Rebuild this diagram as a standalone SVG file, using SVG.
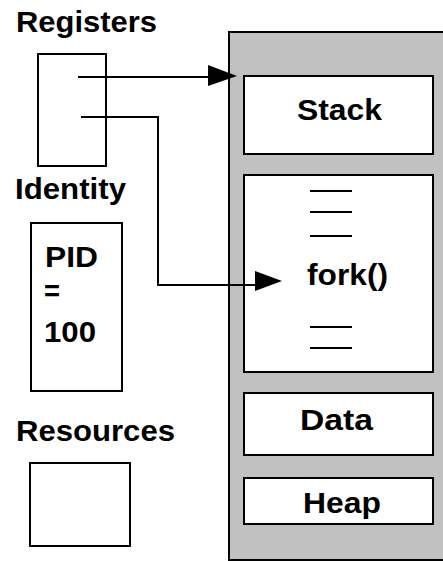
<svg xmlns="http://www.w3.org/2000/svg" width="443" height="561" viewBox="0 0 443 561">
<style>
.box{fill:#fff;stroke:#000;stroke-width:2}
.lbl{font-family:"Liberation Sans",Arial,sans-serif;font-weight:bold;font-size:29px;fill:#000}
.ln{fill:none;stroke:#000;stroke-width:2}
.ah{fill:#000}
</style>
<rect width="443" height="561" fill="#fff"/>
<g id="process">
<rect x="229" y="32" width="220" height="528" fill="#c0c0c0" stroke="#000" stroke-width="2"/>
</g>
<g id="stack">
<rect class="box" x="244" y="76" width="189" height="78"/>
<text class="lbl" x="297" y="120" textLength="85" lengthAdjust="spacingAndGlyphs">Stack</text>
</g>
<g id="code">
<rect class="box" x="244" y="175" width="189" height="197"/>
<g class="ln">
<line x1="310" y1="191" x2="352" y2="191"/>
<line x1="310" y1="212" x2="352" y2="212"/>
<line x1="310" y1="236" x2="352" y2="236"/>
<line x1="310" y1="327" x2="352" y2="327"/>
<line x1="310" y1="348" x2="352" y2="348"/>
<line x1="310" y1="372" x2="352" y2="372"/>
</g>
<text class="lbl" x="307" y="285" textLength="81" lengthAdjust="spacingAndGlyphs">fork()</text>
</g>
<g id="data">
<rect class="box" x="244" y="393" width="189" height="62"/>
<text class="lbl" x="300" y="430" textLength="73" lengthAdjust="spacingAndGlyphs">Data</text>
</g>
<g id="heap">
<rect class="box" x="244" y="478" width="189" height="46"/>
<text class="lbl" x="303" y="513" textLength="78" lengthAdjust="spacingAndGlyphs">Heap</text>
</g>
<g id="registers">
<text class="lbl" x="16" y="32" textLength="141" lengthAdjust="spacingAndGlyphs">Registers</text>
<rect class="box" x="38" y="54" width="68" height="112"/>
</g>
<g id="identity">
<text class="lbl" x="15" y="199" textLength="111" lengthAdjust="spacingAndGlyphs">Identity</text>
<rect class="box" x="31" y="223" width="91" height="168"/>
<text class="lbl" x="45" y="267" textLength="53" lengthAdjust="spacingAndGlyphs">PID</text>
<text class="lbl" x="44" y="301" textLength="16" lengthAdjust="spacingAndGlyphs">=</text>
<text class="lbl" x="44" y="342" textLength="52" lengthAdjust="spacingAndGlyphs">100</text>
</g>
<g id="resources">
<text class="lbl" x="16" y="441" textLength="159" lengthAdjust="spacingAndGlyphs">Resources</text>
<rect class="box" x="30" y="463" width="100" height="83"/>
</g>
<g id="connectors">
<line class="ln" x1="78" y1="77" x2="210" y2="77"/>
<polygon class="ah" points="208,65 237,76 208,86"/>
<polyline class="ln" points="81,117 158,117 158,285 258,285"/>
<polygon class="ah" points="255,271 282,281 255,291"/>
</g>
</svg>
